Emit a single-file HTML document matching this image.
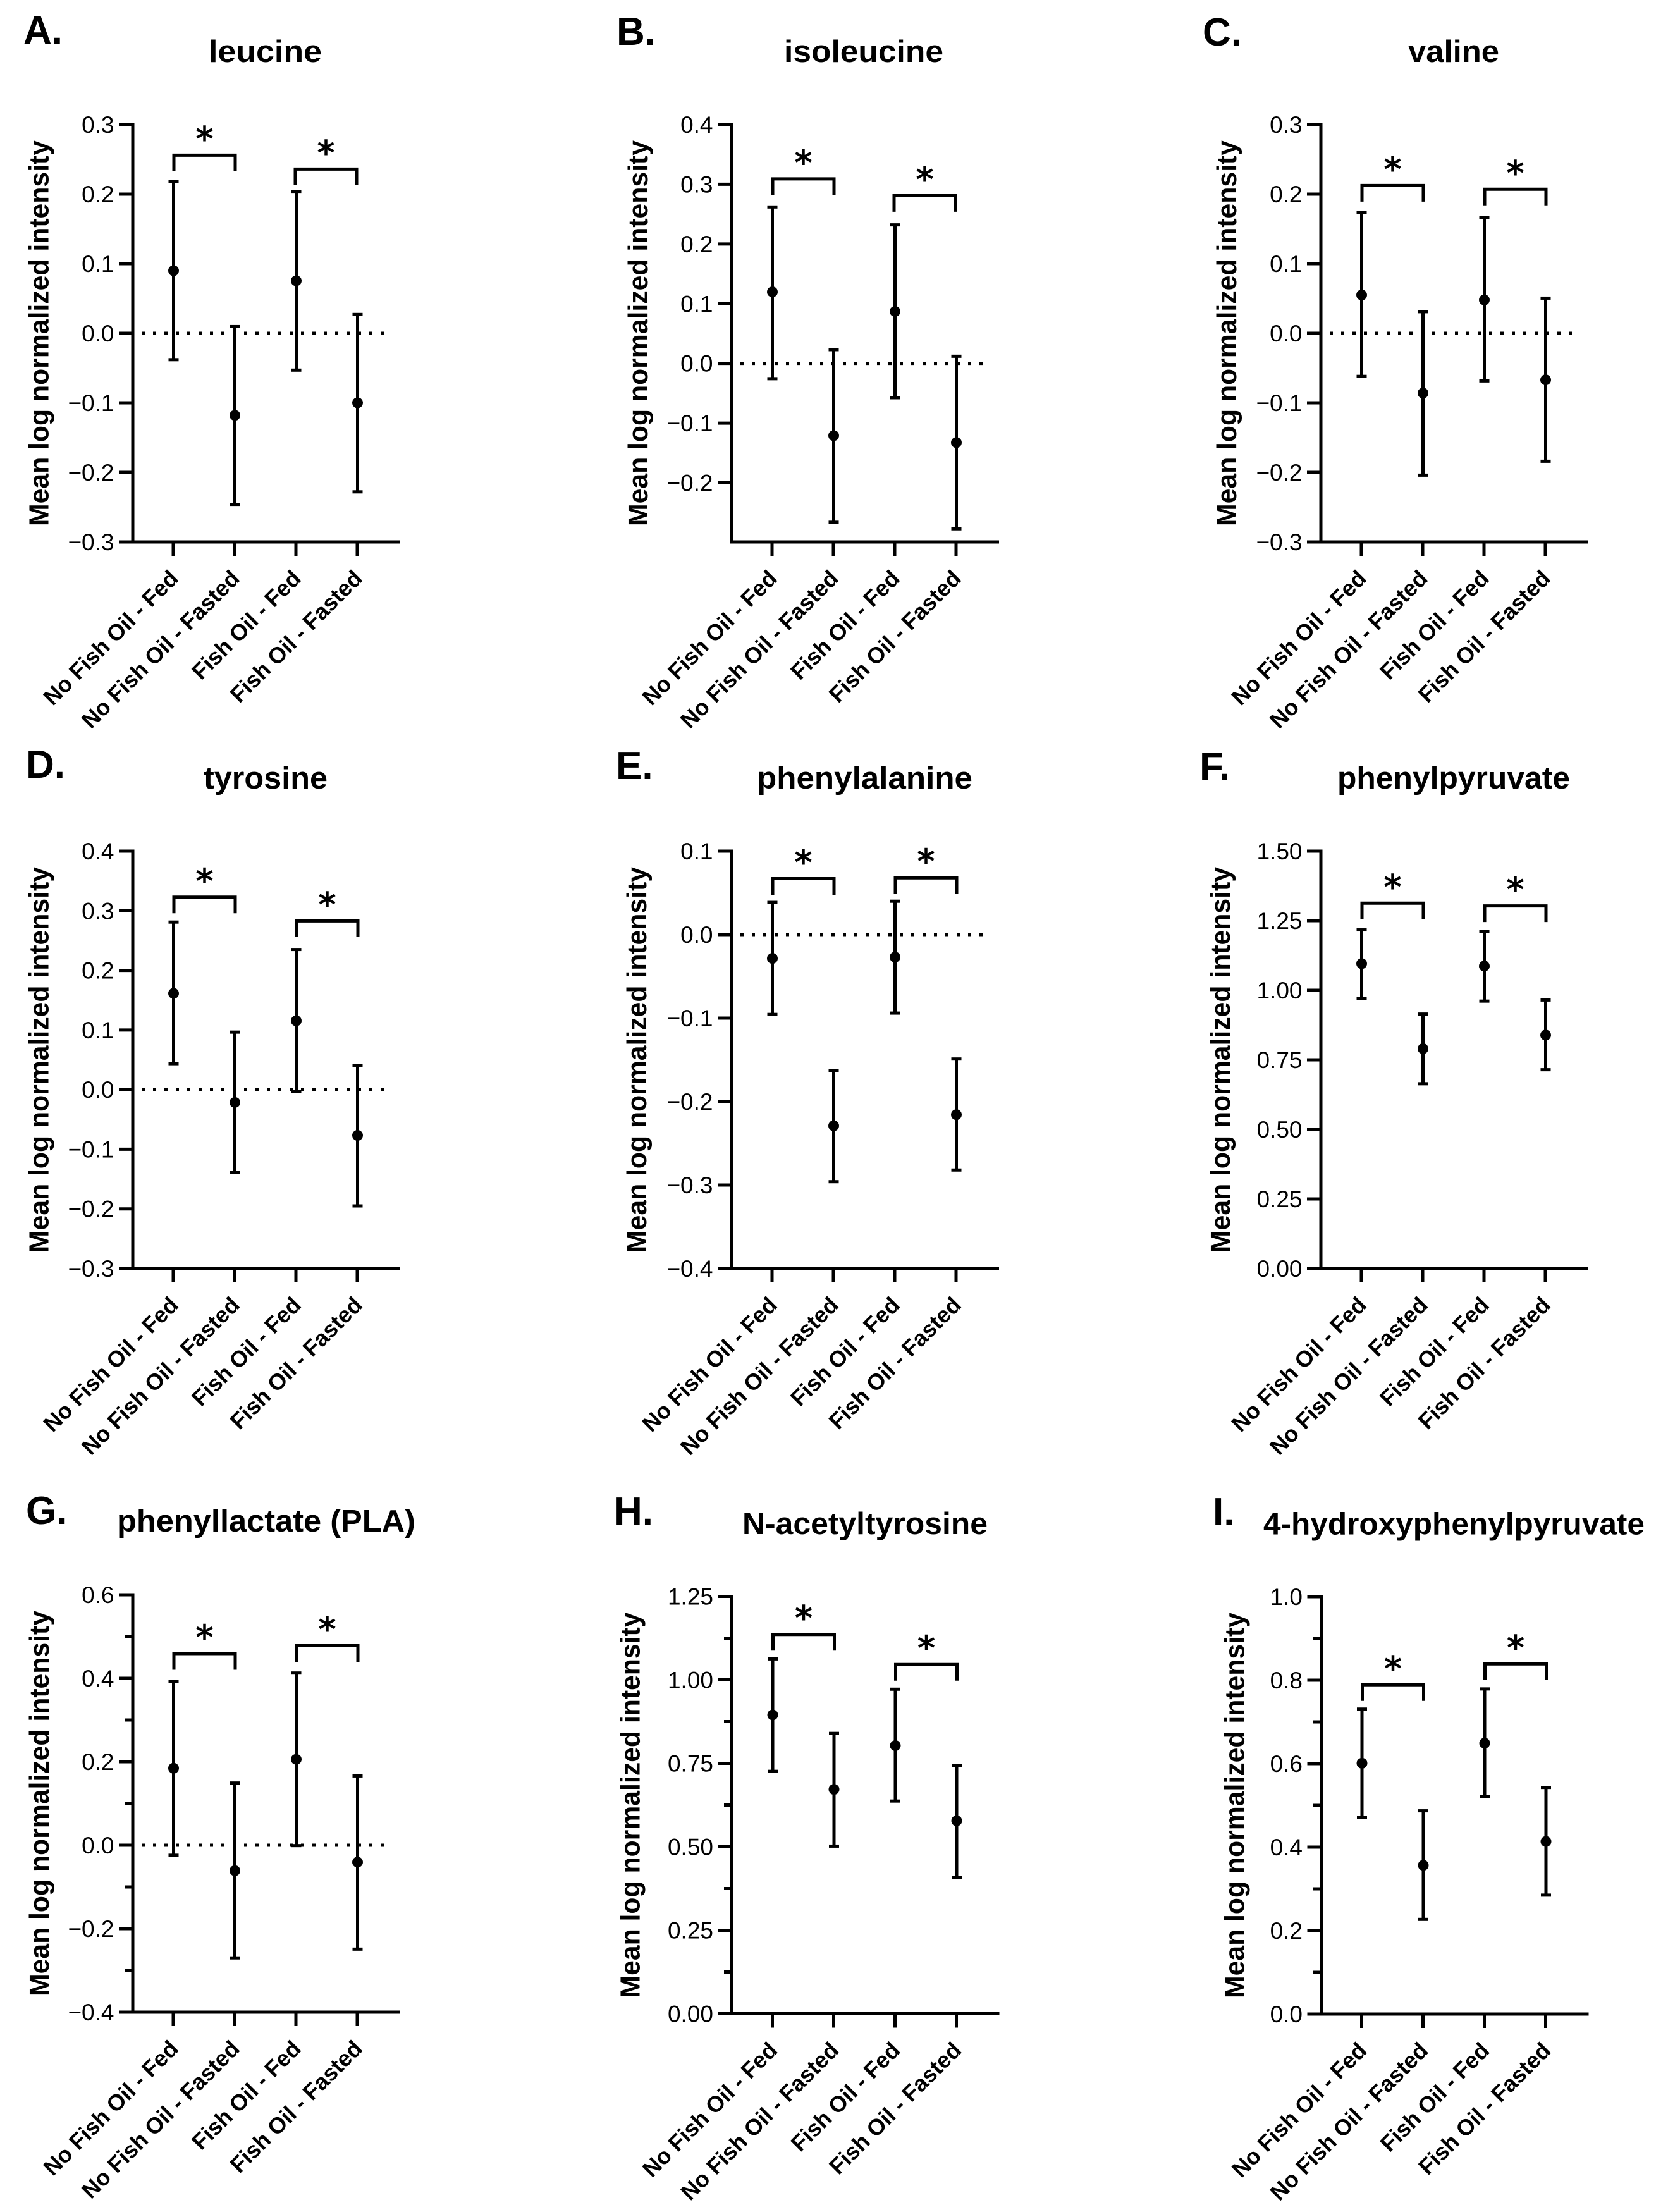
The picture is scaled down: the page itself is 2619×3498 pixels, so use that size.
<!DOCTYPE html>
<html lang="en">
<head>
<meta charset="utf-8">
<title>Amino acid metabolite panels</title>
<style>
  html, body { margin: 0; padding: 0; background: #fff; }
  svg { display: block; }
  text { fill: #000; font-family: "Liberation Sans", Arial, sans-serif; }
</style>
</head>
<body>
<svg id="figure" xmlns="http://www.w3.org/2000/svg" width="2619" height="3498" viewBox="0 0 2619 3498"></svg>
<script>
// ---------- shared category labels ----------
const categories = ["No Fish Oil - Fed", "No Fish Oil - Fasted", "Fish Oil - Fed", "Fish Oil - Fasted"];
const yAxisLabel = "Mean log normalized intensity";

// ---------- panel A: leucine ----------
const leucineMean = [0.090, -0.118, 0.0754, -0.100];
const leucineUpper = [0.218, 0.0096, 0.204, 0.027];
const leucineLower = [-0.038, -0.246, -0.053, -0.228];
const leucineBrackets = [0.256, 0.236];
const leucineTicks = [-0.3, -0.2, -0.1, 0, 0.1, 0.2, 0.3];
const leucineMinor = [];

// ---------- panel B: isoleucine ----------
const isoleucineMean = [0.1198, -0.121, 0.087, -0.1326];
const isoleucineUpper = [0.262, 0.023, 0.232, 0.012];
const isoleucineLower = [-0.0256, -0.266, -0.0575, -0.277];
const isoleucineBrackets = [0.309, 0.281];
const isoleucineTicks = [-0.2, -0.1, 0, 0.1, 0.2, 0.3, 0.4];
const isoleucineMinor = [];

// ---------- panel C: valine ----------
const valineMean = [0.055, -0.086, 0.048, -0.067];
const valineUpper = [0.1735, 0.031, 0.1666, 0.0505];
const valineLower = [-0.062, -0.204, -0.0685, -0.184];
const valineBrackets = [0.2124, 0.207];
const valineTicks = [-0.3, -0.2, -0.1, 0, 0.1, 0.2, 0.3];
const valineMinor = [];

// ---------- panel D: tyrosine ----------
const tyrosineMean = [0.1614, -0.0214, 0.1155, -0.0767];
const tyrosineUpper = [0.281, 0.0965, 0.235, 0.041];
const tyrosineLower = [0.0435, -0.139, -0.003, -0.195];
const tyrosineBrackets = [0.3228, 0.283];
const tyrosineTicks = [-0.3, -0.2, -0.1, 0, 0.1, 0.2, 0.3, 0.4];
const tyrosineMinor = [];

// ---------- panel E: phenylalanine ----------
const phenylalanineMean = [-0.0285, -0.229, -0.027, -0.2157];
const phenylalanineUpper = [0.0386, -0.1626, 0.04, -0.149];
const phenylalanineLower = [-0.0956, -0.296, -0.094, -0.282];
const phenylalanineBrackets = [0.067, 0.068];
const phenylalanineTicks = [-0.4, -0.3, -0.2, -0.1, 0, 0.1];
const phenylalanineMinor = [];

// ---------- panel F: phenylpyruvate ----------
const phenylpyruvateMean = [1.0957, 0.79, 1.087, 0.839];
const phenylpyruvateUpper = [1.217, 0.9145, 1.2116, 0.965];
const phenylpyruvateLower = [0.9696, 0.664, 0.961, 0.7145];
const phenylpyruvateBrackets = [1.313, 1.303];
const phenylpyruvateTicks = [0, 0.25, 0.5, 0.75, 1, 1.25, 1.5];
const phenylpyruvateMinor = [];

// ---------- panel G: phenyllactate ----------
const phenyllactateMean = [0.1845, -0.061, 0.2058, -0.0406];
const phenyllactateUpper = [0.393, 0.149, 0.4126, 0.166];
const phenyllactateLower = [-0.024, -0.27, -0.001, -0.249];
const phenyllactateBrackets = [0.459, 0.478];
const phenyllactateTicks = [-0.4, -0.2, 0, 0.2, 0.4, 0.6];
const phenyllactateMinor = [-0.3, -0.1, 0.1, 0.3, 0.5];

// ---------- panel H: N-acetyltyrosine ----------
const acetyltyrosineMean = [0.895, 0.672, 0.803, 0.578];
const acetyltyrosineUpper = [1.0627, 0.8396, 0.972, 0.744];
const acetyltyrosineLower = [0.726, 0.502, 0.637, 0.409];
const acetyltyrosineBrackets = [1.136, 1.046];
const acetyltyrosineTicks = [0, 0.25, 0.5, 0.75, 1, 1.25];
const acetyltyrosineMinor = [0.125, 0.375, 0.625, 0.875, 1.125];

// ---------- panel I: 4-hydroxyphenylpyruvate ----------
const hydroxyMean = [0.601, 0.3564, 0.649, 0.4134];
const hydroxyUpper = [0.7307, 0.487, 0.779, 0.543];
const hydroxyLower = [0.4715, 0.2268, 0.5207, 0.285];
const hydroxyBrackets = [0.789, 0.839];
const hydroxyTicks = [0, 0.2, 0.4, 0.6, 0.8, 1];
const hydroxyMinor = [0.1, 0.3, 0.5, 0.7, 0.9];

// ---------- panel layout (geometry only) ----------
const panels = [
  { key:"a", letter:"A.", lx:37, ly:69, title:"leucine", tx0:330, tx1:509, tb:98, brShift:-2,
    ax:210, top:197, bot:857, min:-0.3, max:0.3, dec:1, zero:true, titleX:76.5,
    mean:leucineMean, up:leucineUpper, lo:leucineLower, br:leucineBrackets, ticks:leucineTicks, minor:leucineMinor },
  { key:"b", letter:"B.", lx:975, ly:71, title:"isoleucine", tx0:1240, tx1:1492, tb:98, brShift:-2,
    ax:1157, top:197, bot:857, min:-0.299, max:0.4, dec:1, zero:true, titleX:1024,
    mean:isoleucineMean, up:isoleucineUpper, lo:isoleucineLower, br:isoleucineBrackets, ticks:isoleucineTicks, minor:isoleucineMinor },
  { key:"c", letter:"C.", lx:1902, ly:72, title:"valine", tx0:2227, tx1:2371, tb:98, brShift:0,
    ax:2089, top:197, bot:857, min:-0.3, max:0.3, dec:1, zero:true, titleX:1955,
    mean:valineMean, up:valineUpper, lo:valineLower, br:valineBrackets, ticks:valineTicks, minor:valineMinor },
  { key:"d", letter:"D.", lx:41, ly:1230, title:"tyrosine", tx0:322, tx1:518, tb:1247, brShift:0,
    ax:210, top:1346, bot:2006, min:-0.3, max:0.4, dec:1, zero:true, titleX:76.5,
    mean:tyrosineMean, up:tyrosineUpper, lo:tyrosineLower, br:tyrosineBrackets, ticks:tyrosineTicks, minor:tyrosineMinor },
  { key:"e", letter:"E.", lx:974, ly:1232, title:"phenylalanine", tx0:1197, tx1:1538, tb:1247, brShift:0,
    ax:1157, top:1346, bot:2006, min:-0.4, max:0.1, dec:1, zero:true, titleX:1022,
    mean:phenylalanineMean, up:phenylalanineUpper, lo:phenylalanineLower, br:phenylalanineBrackets, ticks:phenylalanineTicks, minor:phenylalanineMinor },
  { key:"f", letter:"F.", lx:1897, ly:1233, title:"phenylpyruvate", tx0:2115, tx1:2483, tb:1247, brShift:0,
    ax:2089, top:1346, bot:2006, min:0, max:1.5, dec:2, zero:false, titleX:1945,
    mean:phenylpyruvateMean, up:phenylpyruvateUpper, lo:phenylpyruvateLower, br:phenylpyruvateBrackets, ticks:phenylpyruvateTicks, minor:phenylpyruvateMinor },
  { key:"g", letter:"G.", lx:41, ly:2410, title:"phenyllactate (PLA)", tx0:185, tx1:657, tb:2422, brShift:0,
    ax:210, top:2522, bot:3182, min:-0.4, max:0.6, dec:1, zero:true, titleX:77,
    mean:phenyllactateMean, up:phenyllactateUpper, lo:phenyllactateLower, br:phenyllactateBrackets, ticks:phenyllactateTicks, minor:phenyllactateMinor },
  { key:"h", letter:"H.", lx:971, ly:2411, title:"N-acetyltyrosine", tx0:1174, tx1:1562, tb:2426, brShift:0,
    ax:1157.5, top:2524.5, bot:3184.5, min:0, max:1.25, dec:2, zero:false, titleX:1011.6,
    mean:acetyltyrosineMean, up:acetyltyrosineUpper, lo:acetyltyrosineLower, br:acetyltyrosineBrackets, ticks:acetyltyrosineTicks, minor:acetyltyrosineMinor },
  { key:"i", letter:"I.", lx:1918, ly:2412, title:"4-hydroxyphenylpyruvate", tx0:1998, tx1:2601, tb:2426.5, brShift:0,
    ax:2089.5, top:2525, bot:3185, min:0, max:1, dec:1, zero:false, titleX:1967.5,
    mean:hydroxyMean, up:hydroxyUpper, lo:hydroxyLower, br:hydroxyBrackets, ticks:hydroxyTicks, minor:hydroxyMinor }
];

const NS = "http://www.w3.org/2000/svg";
const LW = 5;
const figure = document.getElementById("figure");

function mk(parent, tag, props, content) {
  const el = document.createElementNS(NS, tag);
  for (const k in props) el.setAttribute(k, props[k]);
  if (content !== undefined) el.textContent = content;
  parent.appendChild(el);
  return el;
}
function seg(parent, x1, y1, x2, y2, w) {
  return mk(parent, "line", { x1: x1, y1: y1, x2: x2, y2: y2, stroke: "#000", "stroke-width": w || LW });
}
function fmt(v, dec) {
  return v.toFixed(dec).replace("-", "\u2212");
}

panels.forEach(function (p) {
  const yScale = function (v) { return p.bot - (v - p.min) / (p.max - p.min) * (p.bot - p.top); };
  const xScale = function (i) { return p.ax + 64 + 97 * i; };

  const g = mk(figure, "g", {});
  
  

  const letter = mk(g, "text", { x: p.lx, y: p.ly, "font-size": 62, "font-weight": "bold" }, p.letter);
  
  

  const title = mk(g, "text", { x: p.tx0, y: p.tb, "font-size": 49, "font-weight": "bold", textLength: p.tx1 - p.tx0, lengthAdjust: "spacingAndGlyphs" }, p.title);
  
  

  const yTitle = mk(g, "text", { x: 0, y: 0, "font-size": 44, "font-weight": "bold", "text-anchor": "middle",
    textLength: 610, lengthAdjust: "spacingAndGlyphs",
    transform: "translate(" + p.titleX + "," + ((p.top + p.bot) / 2) + ") rotate(-90)" }, yAxisLabel);
  
  

  // axes
  const yAxis = seg(g, p.ax, p.top - LW / 2, p.ax, p.bot + LW / 2);
  
  

  const xAxis = seg(g, p.ax, p.bot, p.ax + 423, p.bot);
  
  

  p.ticks.forEach(function (v) {
    const y = yScale(v);
    const t = seg(g, p.ax - 22, y, p.ax, y);
    
    
    const lab = mk(g, "text", { x: p.ax - 29.5, y: y + 13, "font-size": 37, "text-anchor": "end" }, fmt(v, p.dec));
    
    
  });
  p.minor.forEach(function (v) {
    const y = yScale(v);
    const t = seg(g, p.ax - 12.5, y, p.ax, y);
    
    
  });

  categories.forEach(function (c, i) {
    const x = xScale(i);
    const t = seg(g, x, p.bot, x, p.bot + 22);
    
    
    const lab = mk(g, "text", { x: 0, y: 0, "font-size": 35.7, "font-weight": "bold", "text-anchor": "end",
      transform: "translate(" + (x + 10) + "," + (p.bot + 60) + ") rotate(-45)" }, c);
    
    
  });

  if (p.zero) {
    const z = mk(g, "line", { x1: p.ax + 14, y1: yScale(0), x2: p.ax + 410, y2: yScale(0), stroke: "#000", "stroke-width": 5, "stroke-dasharray": "5 13" });
    
    
  }

  // error bars and mean markers
  categories.forEach(function (c, i) {
    const x = xScale(i) + 0.5;
    const bar = mk(g, "g", {});
    
    
    seg(bar, x, yScale(p.up[i]), x, yScale(p.lo[i]));
    seg(bar, x - 8, yScale(p.up[i]), x + 8, yScale(p.up[i]));
    seg(bar, x - 8, yScale(p.lo[i]), x + 8, yScale(p.lo[i]));
    const dot = mk(bar, "circle", { cx: x, cy: yScale(p.mean[i]), r: 8.5, fill: "#000" });
    
    
  });

  // significance brackets
  p.br.forEach(function (v, b) {
    const shift = b === 1 ? p.brShift : 0;
    const x1 = xScale(b * 2) + 1 + shift;
    const x2 = xScale(b * 2 + 1) + 1 + shift;
    const y = yScale(v);
    const path = mk(g, "path", { d: "M" + x1 + " " + (y + 25.5) + "V" + y + "H" + x2 + "V" + (y + 25.5), fill: "none", stroke: "#000", "stroke-width": LW });
    
    
    const star = mk(g, "text", { x: (x1 + x2) / 2, y: y - 7, "font-size": 54, "font-weight": "bold", "text-anchor": "middle", style: 'font-family:"DejaVu Sans",sans-serif' }, "*");
    
    
  });
});
</script>
</body>
</html>
